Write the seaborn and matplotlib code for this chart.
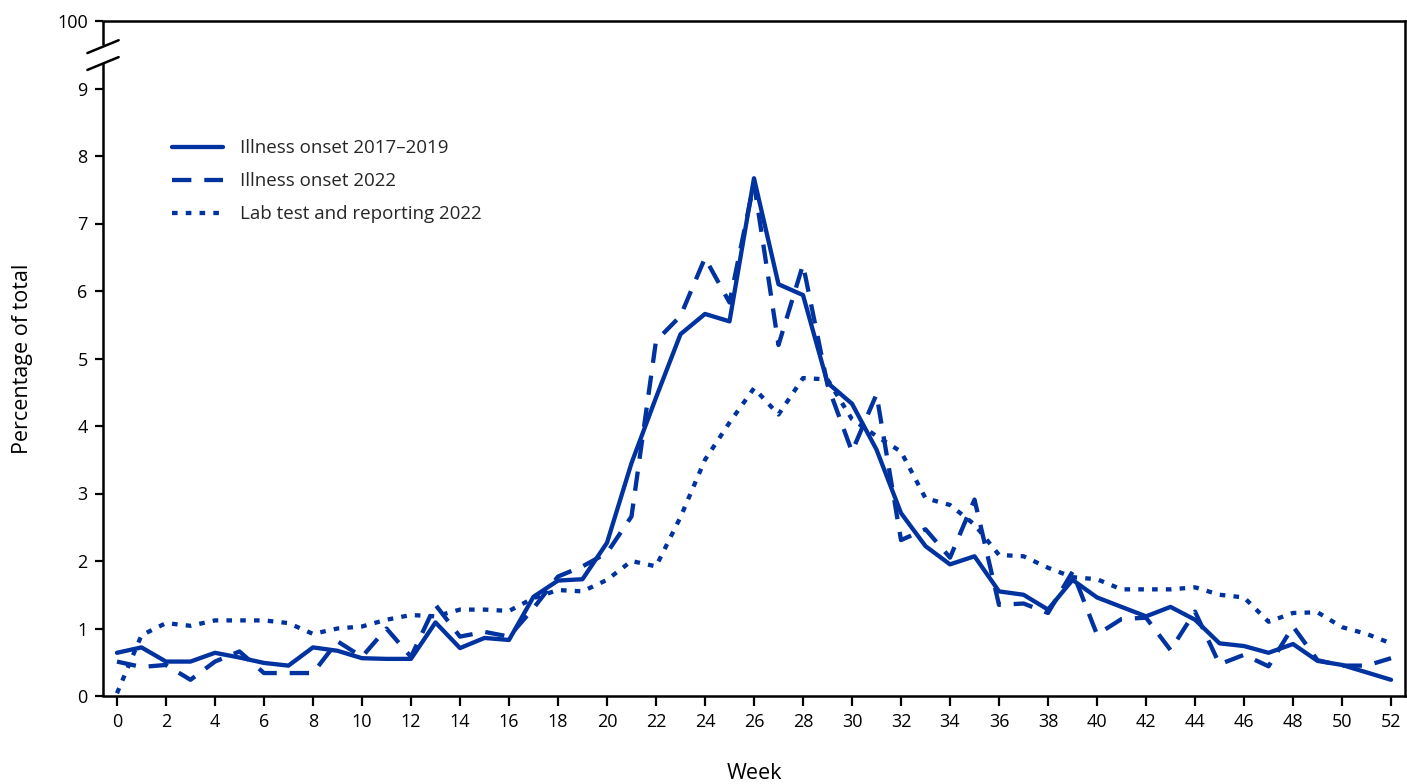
import numpy as np
import pandas as pd
import matplotlib
matplotlib.use("Agg")
import matplotlib.pyplot as plt
import seaborn as sns

weeks = list(range(53))

onset_2017_2019 = [0.64, 0.72, 0.51, 0.51, 0.64, 0.57, 0.49, 0.45, 0.72, 0.67,
                   0.56, 0.55, 0.55, 1.09, 0.71, 0.86, 0.83, 1.47, 1.71, 1.73,
                   2.27, 3.45, 4.42, 5.36, 5.66, 5.55, 7.67, 6.10, 5.94, 4.64,
                   4.33, 3.65, 2.71, 2.22, 1.95, 2.07, 1.55, 1.50, 1.28, 1.72,
                   1.46, 1.32, 1.18, 1.32, 1.13, 0.78, 0.74, 0.64, 0.77, 0.52,
                   0.46, 0.35, 0.24]

onset_2022 = [0.51, 0.43, 0.46, 0.24, 0.51, 0.66, 0.34, 0.34, 0.34, 0.81,
              0.58, 1.00, 0.58, 1.35, 0.88, 0.95, 0.88, 1.30, 1.77, 1.92,
              2.12, 2.66, 5.26, 5.63, 6.49, 5.83, 7.60, 5.20, 6.39, 4.61,
              3.62, 4.47, 2.31, 2.47, 2.05, 2.91, 1.35, 1.37, 1.23, 1.84,
              0.91, 1.14, 1.16, 0.68, 1.25, 0.47, 0.61, 0.44, 1.03, 0.53,
              0.45, 0.45, 0.56]

lab_2022 = [0.04, 0.90, 1.08, 1.04, 1.12, 1.12, 1.12, 1.08, 0.92, 1.00,
            1.03, 1.13, 1.20, 1.18, 1.28, 1.28, 1.26, 1.45, 1.57, 1.55,
            1.72, 2.00, 1.92, 2.65, 3.50, 4.05, 4.56, 4.17, 4.71, 4.69,
            4.10, 3.85, 3.62, 2.93, 2.83, 2.54, 2.09, 2.07, 1.90, 1.76,
            1.73, 1.58, 1.58, 1.58, 1.61, 1.50, 1.46, 1.10, 1.23, 1.24,
            1.02, 0.92, 0.78]

series_names = ["Illness onset 2017\u20132019", "Illness onset 2022",
                "Lab test and reporting 2022"]
x_ticks = list(range(0, 53, 2))
y_ticks = [0, 1, 2, 3, 4, 5, 6, 7, 8, 9, 10]
y_tick_labels = ["0", "1", "2", "3", "4", "5", "6", "7", "8", "9", "100"]

color = "#0033A0"

sns.set_theme(style="ticks")
plt.rcParams["font.family"] = ["Open Sans", "DejaVu Sans"]

df = pd.DataFrame({
    "week": weeks * 3,
    "pct": onset_2017_2019 + onset_2022 + lab_2022,
    "series": [series_names[0]] * 53 + [series_names[1]] * 53 + [series_names[2]] * 53,
})

fig = plt.figure(figsize=(14.07, 7.84), dpi=100)
ax = fig.add_axes([103 / 1407, 1 - 696 / 784, 1302 / 1407, 675 / 784])

styles = [None, (0, (4.5, 3.0)), (0, (1.3, 1.9))]
lines = []
for name, dash in zip(series_names, styles):
    sub = df[df["series"] == name]
    sns.lineplot(data=sub, x="week", y="pct", ax=ax, color=color, lw=3.1,
                 legend=False)
    ln = ax.lines[-1]
    if dash is not None:
        ln.set_linestyle(dash)
        ln.set_dash_capstyle("butt")
    lines.append(ln)

ax.set_xlim(-0.57, 52.57)
ax.set_ylim(0, 10)
ax.set_xticks(x_ticks)
ax.set_xticklabels([str(t) for t in x_ticks])
ax.set_yticks(y_ticks)
ax.set_yticklabels(y_tick_labels)

for s in ["top", "right", "bottom"]:
    ax.spines[s].set_visible(True)
    ax.spines[s].set_linewidth(1.8)
    ax.spines[s].set_color("black")
ax.spines["left"].set_visible(False)

# left spine with break
tr = ax.get_yaxis_transform()
ax.plot([0, 0], [0, 9.38], transform=tr, color="black", lw=1.8, clip_on=False,
        solid_capstyle="butt")
ax.plot([0, 0], [9.64, 10], transform=tr, color="black", lw=1.8, clip_on=False,
        solid_capstyle="butt")
for yc in (9.62, 9.37):
    ax.plot([-0.012, 0.012], [yc - 0.095, yc + 0.095], transform=tr,
            color="black", lw=1.8, clip_on=False)

ax.tick_params(axis="both", direction="out", width=1.6, color="black",
               labelsize=13, labelcolor="black")
ax.tick_params(axis="x", length=7, pad=5)
ax.tick_params(axis="y", length=6, pad=5)

ax.set_xlabel("Week", fontsize=15.5, labelpad=23, color="black")
ax.set_ylabel("Percentage of total", fontsize=15.5, labelpad=17, color="black")

ax.legend(lines, series_names, loc="upper left", bbox_to_anchor=(0.04, 0.85),
          frameon=False, fontsize=13.5, handlelength=2.7, handletextpad=0.95,
          labelspacing=0.8)

fig.savefig("out.png", dpi=100)
